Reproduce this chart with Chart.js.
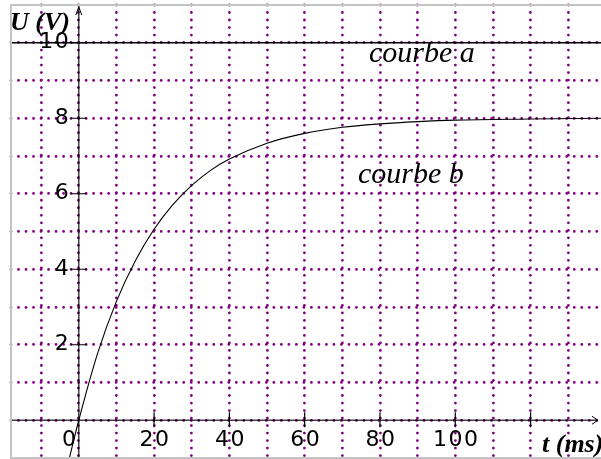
<!DOCTYPE html>
<html>
<head>
<meta charset="utf-8">
<script src="https://cdn.jsdelivr.net/npm/chart.js@4.4.0/dist/chart.umd.min.js"></script>
<style>
html, body { margin: 0; padding: 0; background: #fff; }
#wrap { width: 601px; height: 459px; }
</style>
</head>
<body>
<div id="wrap"><canvas id="chart" width="601" height="459"></canvas></div>
<script>
// courbe b, values (t in ms, U in V)
const tB = [-2.5, 0, 5, 10, 15, 20, 25, 30, 35, 40, 50, 60, 70, 80, 90, 100, 120, 138.7];
const uB = [-1.0, 0, 1.77, 3.15, 4.22, 5.06, 5.71, 6.22, 6.62, 6.92, 7.34, 7.6, 7.76, 7.85, 7.91, 7.95, 7.98, 8.0];

// courbe a : flat line at 10 V
const tA = [-18, 138.7];
const uA = [10, 10];

// grid + tick labels
const xGrid = [-10, 0, 10, 20, 30, 40, 50, 60, 70, 80, 90, 100, 110, 120, 130];
const yGrid = [0, 1, 2, 3, 4, 5, 6, 7, 8, 9, 10];
const xLabels = [0, 20, 40, 60, 80, 100];
const xTickMarks = [20, 40, 60, 80, 100, 120];
const yLabels = [2, 4, 6, 8, 10];

const purple = '#800080';

// axes through the origin, arrows, ticks, texts
const decor = {
    id: 'decor',
    beforeDraw(chart) {
        // round dots for the dotted grid
        chart.ctx.lineCap = 'round';
    },
    beforeDatasetsDraw(chart) {
        const {ctx, chartArea: a, scales: {x, y}} = chart;
        const x0 = x.getPixelForValue(0);
        const y0 = y.getPixelForValue(0);
        ctx.save();
        ctx.lineCap = 'butt';
        ctx.strokeStyle = 'rgba(0,0,0,0.75)';
        ctx.lineWidth = 1.5;
        ctx.beginPath();
        ctx.moveTo(x0, a.bottom);
        ctx.lineTo(x0, a.top);
        ctx.moveTo(a.left, y0);
        ctx.lineTo(a.right - 3, y0);
        ctx.stroke();

        // tick marks
        ctx.lineWidth = 1.2;
        ctx.strokeStyle = '#000';
        ctx.beginPath();
        xTickMarks.forEach(v => {
            const px = x.getPixelForValue(v);
            ctx.moveTo(px, y0 - 8);
            ctx.lineTo(px, y0 + 7);
        });
        yLabels.forEach(v => {
            const py = y.getPixelForValue(v);
            ctx.moveTo(x0 - 8, py);
            ctx.lineTo(x0 + 8, py);
        });
        ctx.stroke();

        // arrows
        ctx.lineWidth = 1;
        ctx.beginPath();
        ctx.moveTo(x0 - 3, a.top + 10);
        ctx.lineTo(x0, a.top + 2);
        ctx.lineTo(x0 + 3, a.top + 10);
        ctx.moveTo(a.right - 9, y0 - 4);
        ctx.lineTo(a.right - 3, y0);
        ctx.lineTo(a.right - 9, y0 + 4);
        ctx.stroke();
        ctx.restore();
    },
    afterDraw(chart) {
        const {ctx, chartArea: a, scales: {x, y}} = chart;
        const x0 = x.getPixelForValue(0);
        const y0 = y.getPixelForValue(0);
        ctx.save();
        ctx.lineCap = 'butt';
        ctx.fillStyle = '#000';

        ctx.font = '22px "DejaVu Sans"';
        ctx.letterSpacing = '1.5px';
        ctx.textAlign = 'center';
        ctx.textBaseline = 'middle';
        xLabels.forEach(v => {
            const px = x.getPixelForValue(v) + (v === 0 ? -9 : 1);
            ctx.fillText(String(v), px, y0 + 20);
        });
        ctx.textAlign = 'right';
        yLabels.forEach(v => {
            ctx.fillText(String(v), x0 - 8.5, y.getPixelForValue(v));
        });
        ctx.letterSpacing = '0px';

        ctx.textAlign = 'left';
        ctx.textBaseline = 'alphabetic';
        ctx.font = 'italic bold 26px "Liberation Serif"';
        ctx.fillText('U (V)', 10, 30);
        ctx.fillText('t (ms)', 542, 452);
        ctx.font = 'italic 30px "Liberation Serif"';
        ctx.fillText('courbe a', 369, 62);
        ctx.fillText('courbe b', 358, 183);

        // grey frame
        ctx.strokeStyle = '#c4c4c4';
        ctx.lineWidth = 2;
        ctx.beginPath();
        ctx.moveTo(a.right, a.top);
        ctx.lineTo(a.left, a.top);
        ctx.lineTo(a.left, a.bottom);
        ctx.lineTo(a.right, a.bottom);
        ctx.stroke();
        ctx.restore();
    }
};

const chart = document.querySelector('#chart').getContext('2d');

new Chart(chart, {
    type: 'line',
    data: {
        datasets: [
            {
                label: 'courbe a',
                data: tA.map((t, i) => ({x: t, y: uA[i]})),
                borderColor: '#000',
                borderWidth: 1.5,
                pointRadius: 0
            },
            {
                label: 'courbe b',
                data: tB.map((t, i) => ({x: t, y: uB[i]})),
                borderColor: '#000',
                borderWidth: 1.1,
                pointRadius: 0,
                cubicInterpolationMode: 'monotone'
            }
        ]
    },
    options: {
        responsive: false,
        animation: false,
        layout: {padding: {left: 11, top: 5, right: 0, bottom: 1}},
        plugins: {legend: {display: false}, tooltip: {enabled: false}},
        scales: {
            x: {
                type: 'linear',
                min: -18,
                max: 138.7,
                afterBuildTicks: s => { s.ticks = xGrid.map(v => ({value: v})); },
                ticks: {display: false},
                grid: {color: purple, lineWidth: 2.8, drawTicks: false},
                border: {display: false, dash: [0.01, 7.5]}
            },
            y: {
                type: 'linear',
                min: -1,
                max: 11,
                afterBuildTicks: s => { s.ticks = yGrid.map(v => ({value: v})); },
                ticks: {display: false},
                grid: {color: purple, lineWidth: 2.8, drawTicks: false},
                border: {display: false, dash: [0.01, 7.5]}
            }
        }
    },
    plugins: [decor]
});
</script>
</body>
</html>
